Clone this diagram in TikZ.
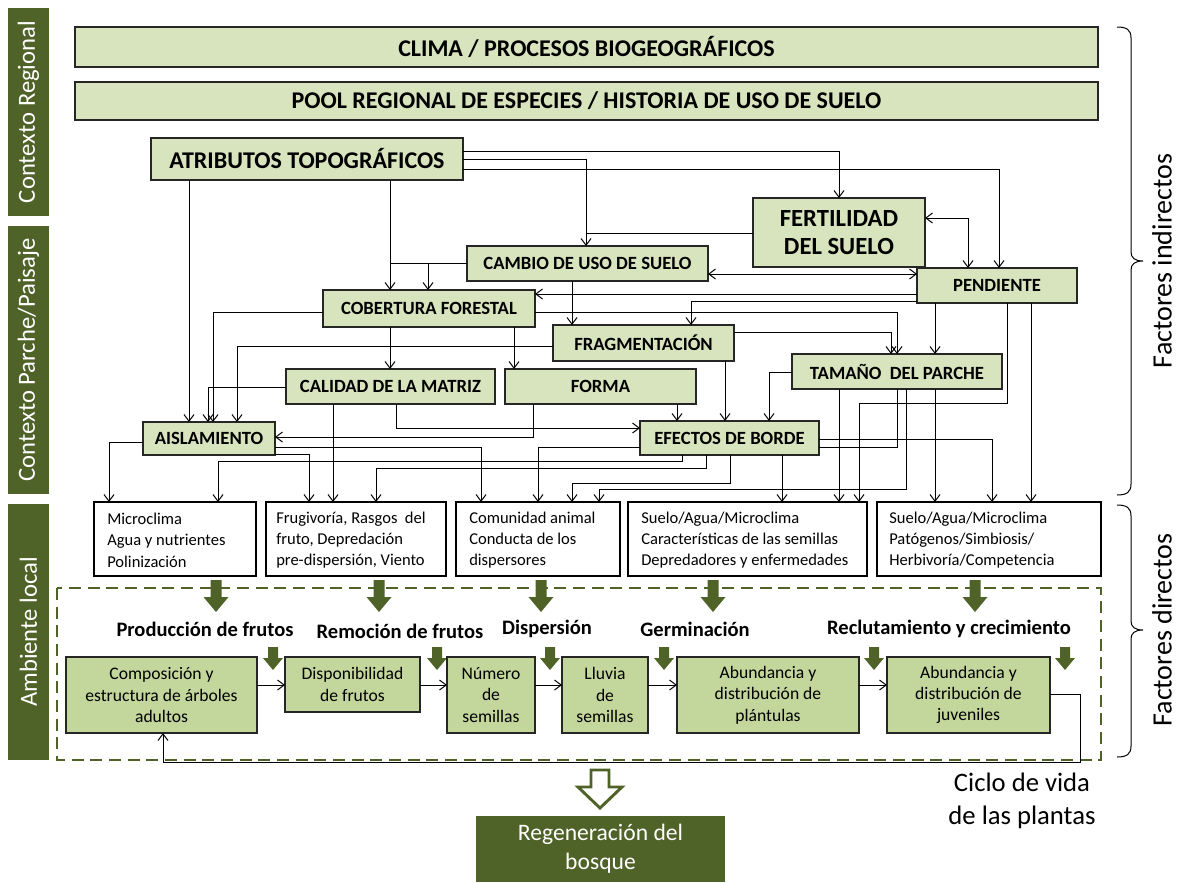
\documentclass[tikz,border=0pt]{standalone}
\usepackage{fontspec}
\setmainfont{Carlito}
\usetikzlibrary{arrows.meta,calc}
\definecolor{lg}{HTML}{D7E4BD}
\definecolor{mg}{HTML}{C3D69B}
\definecolor{dg}{HTML}{4F6228}
\newcommand\bx[7]{\node[#6, minimum width={(#4-#2)*0.75pt}, minimum height={(#5-#3)*0.75pt}] (#1) at ({(#2+#4)/2},{(#3+#5)/2}) {#7};}
\newcommand\bigarr[1]{\fill[dg] (#1-5.5,580) -- (#1+5.5,580) -- (#1+5.5,597) -- (#1+12.5,597) -- (#1,612) -- (#1-12.5,597) -- (#1-5.5,597) -- cycle;}
\newcommand\smallarr[1]{\fill[dg] (#1-5,647) -- (#1+5,647) -- (#1+5,658) -- (#1+10,658) -- (#1,670) -- (#1-10,658) -- (#1-5,658) -- cycle;}
\tikzset{
  box/.style={draw=black!85, line width=1.1pt, fill=lg, inner sep=0pt, outer sep=0pt, align=center, font=\bfseries\fontsize{14}{16}\selectfont},
  rbox/.style={box, font=\bfseries\fontsize{18}{20}\selectfont},
  fbox/.style={box, font=\bfseries\fontsize{18.5}{21}\selectfont},
  dbox/.style={draw=black, line width=2.2pt, fill=white, inner sep=0pt, outer sep=0pt},
  dtext/.style={anchor=west, align=left, inner sep=0pt, font=\fontsize{12.4}{16}\selectfont},
  lbox/.style={draw=black!85, line width=0.9pt, fill=mg, inner sep=0pt, outer sep=0pt, align=center, font=\fontsize{13.2}{16}\selectfont},
  bar/.style={fill=dg, inner sep=0pt, outer sep=0pt},
  bartext/.style={rotate=90, text=white, font=\fontsize{18.5}{20}\selectfont},
  plabel/.style={font=\bfseries\fontsize{15.4}{17}\selectfont, inner sep=0pt},
  ln/.style={draw=black, line width=0.75pt},
  arr/.style={ln, -{Straight Barb[length=5pt,width=7.5pt]}},
  barr/.style={ln, {Straight Barb[length=5pt,width=7.5pt]}-{Straight Barb[length=5pt,width=7.5pt]}},
  brc/.style={draw=black, line width=0.75pt},
  side/.style={rotate=90, font=\fontsize{21}{24}\selectfont},
}
\begin{document}
\begin{tikzpicture}[x=0.75pt,y=-0.75pt]
\useasboundingbox (0,0) rectangle (1177,882);
% side bars
\bx{bar1}{8}{8}{49}{216}{bar}{}
\bx{bar2}{8}{226}{49}{494}{bar}{}
\bx{bar3}{8}{504}{49}{760}{bar}{}
\node[bartext] at (bar1.center) {Contexto Regional};
\node[bartext] at (bar2.center) {Contexto Parche/Paisaje};
\node[bartext] at (bar3.center) {Ambiente local};
% upper boxes
\bx{cli}{75}{27}{1098}{67}{rbox}{CLIMA / PROCESOS BIOGEOGRÁFICOS}
\bx{poo}{75}{82}{1098}{120}{rbox}{POOL REGIONAL DE ESPECIES / HISTORIA DE USO DE SUELO}
\bx{atr}{151}{138}{463}{180}{rbox}{ATRIBUTOS TOPOGRÁFICOS}
\bx{fer}{753}{198}{925}{267}{fbox}{FERTILIDAD\\DEL SUELO}
\bx{cam}{467}{246}{708}{281}{box}{CAMBIO DE USO DE SUELO}
\bx{pen}{917}{268}{1077}{303}{box}{PENDIENTE}
\bx{cob}{323}{290}{535}{327}{box}{COBERTURA FORESTAL}
\bx{fra}{553}{325}{734}{361}{box}{FRAGMENTACIÓN}
\bx{tam}{792}{354}{1002}{389}{box}{TAMAÑO\ \ DEL PARCHE}
\bx{cal}{286}{369}{495}{404}{box}{CALIDAD DE LA MATRIZ}
\bx{for}{505}{369}{696}{404}{box}{FORMA}
\bx{ais}{143}{422}{275}{455}{box}{AISLAMIENTO}
\bx{efe}{640}{421}{819}{455}{box}{EFECTOS DE BORDE}
% direct factor boxes
\bx{b1}{94}{502}{256}{576}{dbox}{}
\bx{b2}{266}{502}{446}{576}{dbox}{}
\bx{b3}{456}{502}{620}{576}{dbox}{}
\bx{b4}{628}{502}{867}{576}{dbox}{}
\bx{b5}{877}{502}{1101}{576}{dbox}{}
\node[dtext] (t1) at (107,540) {Microclima\\Agua y nutrientes\\Polinización};
\node[dtext] (t2) at (276,540) {Frugivoría, Rasgos\ \ del\\fruto, Depredación\\pre-dispersión, Viento};
\node[dtext] (t3) at (469,540) {Comunidad animal\\Conducta de los\\dispersores};
\node[dtext] (t4) at (641,540) {Suelo/Agua/Microclima\\Características de las semillas\\Depredadores y enfermedades};
\node[dtext] (t5) at (889,540) {Suelo/Agua/Microclima\\Patógenos/Simbiosis/\\Herbivoría/Competencia};
% connectors from ATRIBUTOS
\draw[arr] (atr.east |- 0,151) -| (fer.north);
\draw[arr] (atr.east |- 0,159) -| (cam.north -| 586,0);
\draw[arr] (atr.east |- 0,169) -| (pen.north -| 999,0);
\draw[arr] (atr.south -| 189,0) -- (ais.north -| 189,0);
\draw[arr] (atr.south -| 390,0) -- (cob.north -| 390,0);
% FERTILIDAD
\draw[ln] (fer.west |- 0,233) -- (586,233);
\draw[barr] (fer.east |- 0,218) -| (pen.north -| 968,0);
% CAMBIO
\draw[ln] (cam.west |- 0,263) -- (390,263);
\draw[arr] (428,263) -- (cob.north -| 428,0);
\draw[barr] (cam.east |- 0,274) -- (pen.west |- 0,274);
\draw[arr] (cam.south -| 572,0) -- (fra.north -| 572,0);
% PENDIENTE
\draw[arr] (pen.west |- 0,294) -- (cob.east |- 0,294);
\draw[arr] (pen.west |- 0,301) -| (fra.north -| 691,0);
\draw[arr] (pen.south -| 935,0) -- (tam.north -| 935,0);
\draw[arr] (pen.south -| 1007,0) -- (1007,403) -| (b4.north -| 859,0);
\draw[arr] (pen.south -| 1031,0) -- (b5.north -| 1031,0);
% COBERTURA
\draw[arr] (cob.east |- 0,312) -| (tam.north -| 897,0);
\draw[arr] (cob.west |- 0,312) -| (ais.north -| 213,0);
\draw[arr] (cob.south -| 390,0) -- (cal.north -| 390,0);
\draw[arr] (cob.south -| 514,0) -- (for.north -| 514,0);
% FRAGMENTACION
\draw[arr] (fra.east |- 0,332) -| (tam.north -| 891,0);
\draw[arr] (fra.west |- 0,346) -| (ais.north -| 237,0);
\draw[arr] (fra.south -| 725,0) -- (efe.north -| 725,0);
% CALIDAD
\draw[arr] (cal.west |- 0,387) -| (ais.north -| 208,0);
\draw[arr] (cal.south -| 333,0) -- (b2.north -| 333,0);
\draw[arr] (cal.south -| 396,0) |- (efe.west |- 0,428);
% FORMA
\draw[arr] (for.south -| 533,0) |- (ais.east |- 0,437);
\draw[arr] (for.south -| 677,0) -- (efe.north -| 677,0);
% TAMANO
\draw[arr] (tam.west |- 0,372) -| (efe.north -| 769,0);
\draw[arr] (tam.south -| 839,0) -- (b4.north -| 839,0);
\draw[ln] (tam.south -| 897,0) |- (efe.east |- 0,447);
\draw[arr] (tam.south -| 906,0) -- (906,489) -| (b3.north -| 599,0);
\draw[arr] (tam.south -| 935,0) -- (b5.north -| 935,0);
% EFECTOS
\draw[arr] (efe.east |- 0,439) -| (b5.north -| 992,0);
\draw[arr] (efe.west |- 0,447) -| (b3.north -| 538,0);
\draw[arr] (efe.south -| 682,0) -- (682,461) -| (b1.north -| 218,0);
\draw[arr] (efe.south -| 706,0) -- (706,468) -| (b2.north -| 376,0);
\draw[arr] (efe.south -| 730,0) -- (730,483) -| (b3.north -| 572,0);
\draw[arr] (efe.south -| 782,0) -- (b4.north -| 782,0);
% AISLAMIENTO
\draw[arr] (ais.west |- 0,442) -| (b1.north -| 109,0);
\draw[arr] (ais.east |- 0,447) -| (b3.north -| 481,0);
\draw[arr] (ais.east |- 0,454) -| (b2.north -| 309,0);
% local environment
\draw[dg, line width=2pt, dash pattern=on 9pt off 5pt] (57,588) rectangle (1101,760);
\bigarr{216}\bigarr{379}\bigarr{541}\bigarr{713}\bigarr{975}
\node[plabel] (p1) at (205,629) {Producción de frutos};
\node[plabel] (p2) at (400,631) {Remoción de frutos};
\node[plabel] (p3) at (547,629) {Dispersión};
\node[plabel] (p4) at (695,629) {Germinación};
\node[plabel] (p5) at (949,629) {Reclutamiento y crecimiento};
\smallarr{273}\smallarr{437}\smallarr{550}\smallarr{664}\smallarr{874}\smallarr{1065}
\bx{l1}{66}{657}{257}{733}{lbox}{Composición y\\estructura de árboles\\adultos}
\bx{l2}{285}{657}{420}{712}{lbox}{Disponibilidad\\de frutos}
\bx{l3}{447}{657}{535}{733}{lbox}{Número\\de\\semillas}
\bx{l4}{562}{657}{648}{733}{lbox}{Lluvia\\de\\semillas}
\bx{l5}{677}{657}{859}{733}{lbox}{Abundancia y\\distribución de\\plántulas}
\bx{l6}{887}{657}{1050}{733}{lbox}{Abundancia y\\distribución de\\juveniles}
\draw[arr] (l1.east |- 0,685) -- (l2.west |- 0,685);
\draw[arr] (l2.east |- 0,685) -- (l3.west |- 0,685);
\draw[arr] (l3.east |- 0,685) -- (l4.west |- 0,685);
\draw[arr] (l4.east |- 0,685) -- (l5.west |- 0,685);
\draw[arr] (l5.east |- 0,685) -- (l6.west |- 0,685);
\draw[arr] (l6.east |- 0,694) -| (1080,762) -| (l1.south -| 163,0);
% regeneration
\draw[dg, fill=white, line width=2.2pt] (591,770) -- (609,770) -- (609,787) -- (622,787) -- (600,808) -- (578,787) -- (591,787) -- cycle;
\bx{reg}{476}{816}{725}{882}{bar}{}
\node[text=white, align=center, font=\fontsize{17.7}{22}\selectfont] at (reg.center) {Regeneración del\\bosque};
\node[align=center, font=\fontsize{20}{25}\selectfont] (ciclo) at (1022,801) {Ciclo de vida\\de las plantas};
% braces
\draw[brc] (1117,27) .. controls (1127,27) and (1131,30) .. (1131,38) -- (1131,252) .. controls (1131,258) and (1135,261) .. (1143,261) .. controls (1135,261) and (1131,264) .. (1131,270) -- (1131,484) .. controls (1131,492) and (1127,495) .. (1117,495);
\draw[brc] (1117,505) .. controls (1127,505) and (1131,508) .. (1131,516) -- (1131,621) .. controls (1131,627) and (1135,630) .. (1143,630) .. controls (1135,630) and (1131,633) .. (1131,639) -- (1131,746) .. controls (1131,754) and (1127,757) .. (1117,757);
\node[side] (fi) at (1162,261) {Factores indirectos};
\node[side] (fd) at (1162,630) {Factores directos};
\end{tikzpicture}
\end{document}
